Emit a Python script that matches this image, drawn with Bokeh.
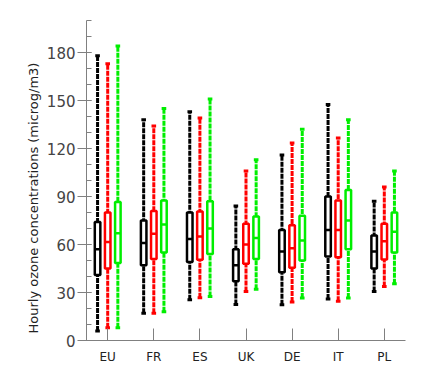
from bokeh.plotting import figure
from bokeh.models import FixedTicker, ColumnDataSource, Range1d, Title
from bokeh.embed import file_html
from bokeh.resources import INLINE

countries = ["EU", "FR", "ES", "UK", "DE", "IT", "PL"]

# Black series
black_low = [6, 17, 25.5, 22.5, 22.3, 26, 30.6]
black_q1 = [41, 47, 49, 37, 42.7, 52.5, 45]
black_med = [57, 61, 63.5, 47, 55.6, 69, 55.6]
black_q3 = [74, 75, 80, 57, 69, 90, 65.6]
black_high = [178, 138, 143, 84, 116, 147.5, 87]

# Red series
red_low = [8, 17, 26.7, 30.6, 24, 24.6, 33.8]
red_q1 = [45, 51, 50.4, 48, 45.4, 52, 50.6]
red_med = [61.5, 66.7, 65, 60, 57.7, 69, 62]
red_q3 = [80, 81, 80.6, 73, 72, 87.5, 73]
red_high = [173, 134, 139, 106, 123.5, 126.5, 96]

# Green series
green_low = [8, 18, 27.5, 32, 26.5, 26.5, 35.4]
green_q1 = [48.5, 55, 54, 51, 50, 57, 55]
green_med = [67, 72.5, 70, 64, 62.5, 75, 68]
green_q3 = [86.5, 87.5, 87, 77.5, 78, 94, 80]
green_high = [184, 145, 151, 113, 132, 138, 106]

y_title = "Hourly ozone concentrations (microg/m3)"

series = [
    ("#000000", -0.22, black_low, black_q1, black_med, black_q3, black_high),
    ("#ff0000", 0.0, red_low, red_q1, red_med, red_q3, red_high),
    ("#00ee00", 0.22, green_low, green_q1, green_med, green_q3, green_high),
]

p = figure(width=428, height=366, output_backend="svg", toolbar_location=None,
           x_range=Range1d(0.54, 7.46), y_range=Range1d(0, 200),
           min_border_left=86, min_border_right=23, min_border_top=20,
           min_border_bottom=26)
p.outline_line_color = None
p.grid.visible = False

box_w = 0.12
cap_hw = 0.05
for color, off, lo, q1, med, q3, hi in series:
    xs = [i + 1 + off for i in range(len(countries))]
    src = ColumnDataSource(dict(x=xs, lo=lo, q1=q1, med=med, q3=q3, hi=hi,
                                xl=[x - box_w / 2 for x in xs],
                                xr=[x + box_w / 2 for x in xs],
                                cl=[x - cap_hw for x in xs],
                                cr=[x + cap_hw for x in xs]))
    p.segment(x0="x", y0="lo", x1="x", y1="hi", source=src, line_color=color,
              line_width=3, line_dash="5 1")
    p.segment(x0="cl", y0="hi", x1="cr", y1="hi", source=src, line_color=color, line_width=3)
    p.segment(x0="cl", y0="lo", x1="cr", y1="lo", source=src, line_color=color, line_width=3)
    p.vbar(x="x", width=box_w, bottom="q1", top="q3", source=src,
           fill_color="white", line_color=color, line_width=2.5)
    p.segment(x0="xl", y0="med", x1="xr", y1="med", source=src, line_color=color, line_width=2.5)

yax = p.yaxis[0]
yax.ticker = FixedTicker(ticks=[0, 30, 60, 90, 120, 150, 180],
                         minor_ticks=list(range(0, 201, 10)))
yax.major_label_text_font = "DejaVu Sans"
yax.major_label_text_font_size = "15px"
yax.major_label_text_color = "#444444"
yax.major_label_standoff = 2
yax.axis_line_color = "#808080"
yax.major_tick_line_color = "#808080"
yax.minor_tick_line_color = "#808080"
yax.major_tick_out = 9
yax.major_tick_in = 5
yax.minor_tick_in = 5
yax.minor_tick_out = 0

p.add_layout(Title(text=y_title, align="left", offset=7, standoff=6,
                   text_font="DejaVu Sans", text_font_size="13px",
                   text_font_style="normal", text_color="#222222"), "left")

xax = p.xaxis[0]
xax.ticker = FixedTicker(ticks=list(range(1, len(countries) + 1)))
xax.major_label_overrides = {i + 1: c for i, c in enumerate(countries)}
xax.major_label_text_font = "DejaVu Sans"
xax.major_label_text_font_size = "12px"
xax.major_label_text_color = "#222222"
xax.major_label_standoff = 9
xax.axis_line_color = "#808080"
xax.major_tick_line_color = "#808080"
xax.major_tick_in = 12
xax.major_tick_out = 0
xax.minor_tick_line_color = None

open("out.html", "w").write(file_html(p, INLINE))
